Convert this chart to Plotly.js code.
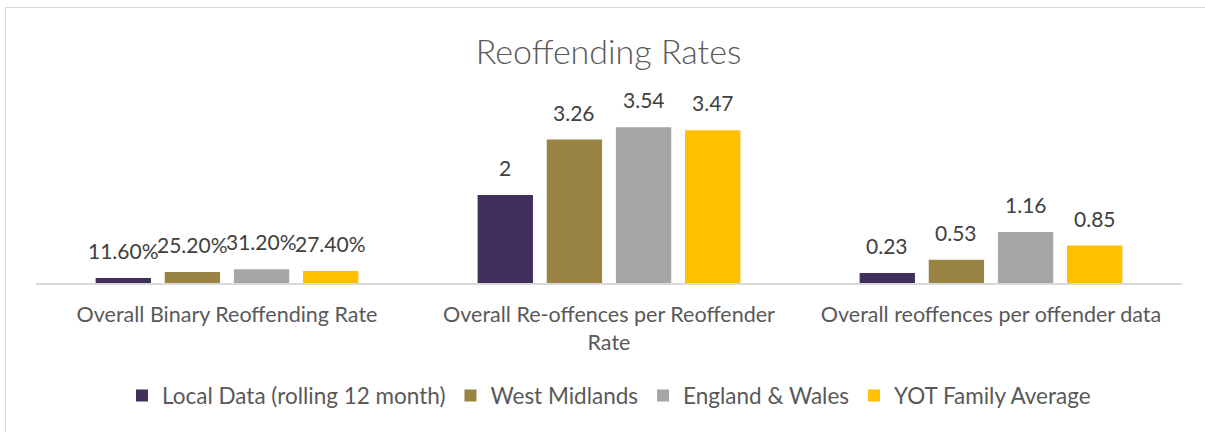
<!DOCTYPE html>
<html>
<head>
<meta charset="utf-8">
<script src="https://cdn.plot.ly/plotly-3.0.1.min.js"></script>
<style>
html,body{margin:0;padding:0;background:#fff;}
#wrap{position:relative;width:1205px;height:432px;overflow:hidden;}
#chart{position:absolute;left:0;top:0;width:1205px;height:432px;}
#frame{position:absolute;left:5px;top:7px;width:1215px;height:440px;border:1px solid #d9d9d9;box-sizing:border-box;pointer-events:none;}
</style>
</head>
<body>
<div id="wrap"><div id="chart"></div><div id="frame"></div></div>
<script>
const categories = ["Overall Binary Reoffending Rate", "Overall Re-offences per Reoffender<br>Rate", "Overall reoffences per offender data"];
const seriesNames = ["Local Data (rolling 12 month)", "West Midlands", "England & Wales", "YOT Family Average"];
const localData = [0.116, 2, 0.23];
const westMidlands = [0.252, 3.26, 0.53];
const englandWales = [0.312, 3.54, 1.16];
const yotFamily = [0.274, 3.47, 0.85];
const colors = ["#412F5B", "#9A8444", "#A5A5A5", "#FFC000"];

const allValues = [localData, westMidlands, englandWales, yotFamily];
function fmt(v, i) {
  return i === 0 ? (v * 100).toFixed(2) + "%" : String(v);
}
const W = 1205, H = 432;
const margin = {l: 36, r: 23, t: 85, b: 149};
const bargap = 0.276, bargroupgap = 0.2;
const plotW = W - margin.l - margin.r;
const slot = plotW / categories.length * (1 - bargap) / allValues.length;

const traces = allValues.map((vals, s) => ({
  type: "bar",
  name: seriesNames[s],
  x: categories,
  y: vals,
  marker: {color: colors[s]},
  hoverinfo: "none"
}));

const annotations = [];
allValues.forEach((vals, s) => {
  vals.forEach((v, i) => {
    annotations.push({
      x: categories[i], y: v, xref: "x", yref: "y",
      text: fmt(v, i), showarrow: false,
      xanchor: "center", yanchor: "bottom",
      xshift: (s - (allValues.length - 1) / 2) * slot,
      yshift: 13,
      font: {family: "Lato, sans-serif", size: 21, color: "#404040"}
    });
  });
});

const layout = {
  width: W, height: H,
  margin: margin,
  paper_bgcolor: "rgba(0,0,0,0)", plot_bgcolor: "rgba(0,0,0,0)",
  title: {text: "Reoffending Rates", x: 0.505, xanchor: "center", y: 0.88, yanchor: "middle",
          font: {family: "Lato, sans-serif", size: 34, color: "#595959", weight: 300}},
  barmode: "group", bargap: bargap, bargroupgap: bargroupgap,
  xaxis: {showline: true, linecolor: "#d9d9d9", linewidth: 1.5, ticks: "", showgrid: false,
          ticklabelstandoff: 12,
          tickfont: {family: "Lato, sans-serif", size: 21.5, color: "#595959"}, automargin: false},
  yaxis: {range: [0, 4.5], visible: false, showgrid: false, zeroline: false},
  showlegend: true,
  legend: {orientation: "h", x: 0.5, xanchor: "center", y: -0.57, yanchor: "middle",
           font: {family: "Lato, sans-serif", size: 22.5, color: "#595959"}, traceorder: "normal"},
  annotations: annotations
};
Plotly.newPlot("chart", traces, layout, {displayModeBar: false, staticPlot: true});
</script>
</body>
</html>
